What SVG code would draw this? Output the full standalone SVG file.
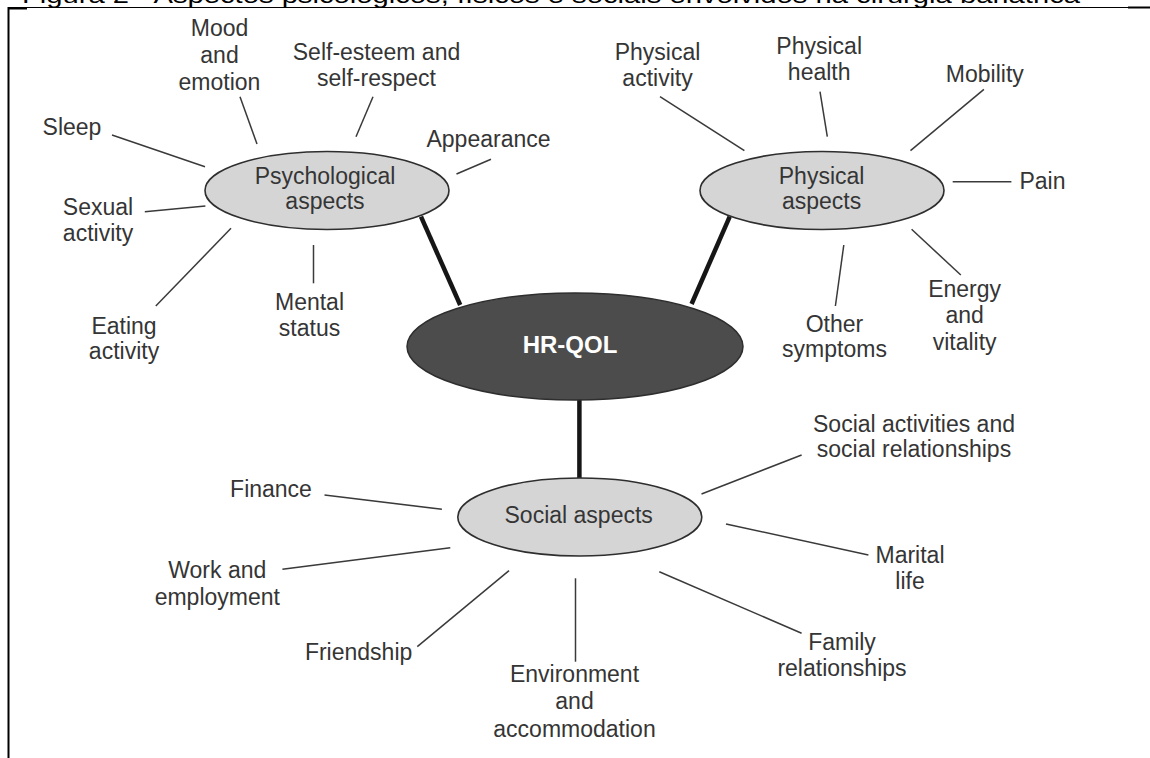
<svg xmlns="http://www.w3.org/2000/svg" width="1150" height="758" viewBox="0 0 1150 758">
<style>
text{font-family:"Liberation Sans",Arial,sans-serif;font-size:23px;fill:#353535;text-anchor:middle}
.thin{stroke:#3a3a3a;stroke-width:1.5;fill:none}
.thick{stroke:#161616;stroke-width:4.5;fill:none}
.asp{fill:#d5d5d5;stroke:#2e2e2e;stroke-width:1.6}
.core{fill:#4c4c4c;stroke:#2e2e2e;stroke-width:1.5}
.frame{stroke:#000;fill:none}
</style>
<rect width="1150" height="758" fill="#fff"/>
<g id="caption">
<text x="22" y="2.5" style="text-anchor:start;font-size:22px;fill:#000" textLength="1058" lengthAdjust="spacingAndGlyphs">Figura 2 - Aspectos psicológicos, físicos e sociais envolvidos na cirurgia bariátrica</text>
</g>
<g id="frame">
<line class="frame" x1="8" y1="7.5" x2="1128" y2="7.5" stroke-width="1.2"/>
<line class="frame" x1="8" y1="8.5" x2="27" y2="8.5" stroke-width="2"/>
<line class="frame" x1="1128" y1="7.5" x2="1150" y2="7.5" stroke-width="2"/>
<line class="frame" x1="8.5" y1="7" x2="8.5" y2="758" stroke-width="2"/>
</g>
<g id="connectors">
<line class="thick" x1="421" y1="216.7" x2="460.2" y2="305"/>
<line class="thick" x1="729.7" y1="216.7" x2="691.6" y2="304"/>
<line class="thick" x1="579.4" y1="398" x2="579.4" y2="480"/>
<line class="thin" x1="112" y1="135" x2="205" y2="166.7"/>
<line class="thin" x1="240" y1="96.7" x2="257" y2="144"/>
<line class="thin" x1="373" y1="96.7" x2="356" y2="136.7"/>
<line class="thin" x1="491" y1="159.3" x2="456.5" y2="174"/>
<line class="thin" x1="144.8" y1="211.7" x2="205.4" y2="206"/>
<line class="thin" x1="155.8" y1="306" x2="231" y2="228.3"/>
<line class="thin" x1="313.5" y1="245" x2="313.5" y2="283.3"/>
<line class="thin" x1="660" y1="96.7" x2="744.4" y2="150.7"/>
<line class="thin" x1="820" y1="91.7" x2="827.3" y2="136.7"/>
<line class="thin" x1="983.9" y1="89.3" x2="910.5" y2="150.7"/>
<line class="thin" x1="952.7" y1="181.7" x2="1011.4" y2="181.7"/>
<line class="thin" x1="911.6" y1="229.3" x2="960.8" y2="275"/>
<line class="thin" x1="843.8" y1="245" x2="835.4" y2="306"/>
<line class="thin" x1="801.6" y1="455" x2="701.5" y2="494"/>
<line class="thin" x1="324.5" y1="495" x2="441.9" y2="509.3"/>
<line class="thin" x1="282.4" y1="569.3" x2="450.3" y2="547.7"/>
<line class="thin" x1="417.3" y1="646.7" x2="509" y2="570.7"/>
<line class="thin" x1="575.5" y1="578.3" x2="575.5" y2="661.7"/>
<line class="thin" x1="726" y1="524" x2="868.4" y2="555"/>
<line class="thin" x1="659.3" y1="571.7" x2="801.6" y2="633.3"/>
</g>
<g id="psychological">
<ellipse class="asp" cx="327" cy="190.5" rx="122" ry="39"/>
<text x="325" y="183.5">Psychological</text>
<text x="325" y="209">aspects</text>
</g>
<g id="physical">
<ellipse class="asp" cx="822" cy="190.5" rx="122" ry="39"/>
<text x="821.6" y="183.5">Physical</text>
<text x="821.6" y="209">aspects</text>
</g>
<g id="hrqol">
<ellipse class="core" cx="575" cy="346.5" rx="168" ry="53.5"/>
<text x="570" y="353" style="fill:#fff;font-weight:bold;font-size:24px">HR-QOL</text>
</g>
<g id="social">
<ellipse class="asp" cx="579.8" cy="517" rx="122" ry="39"/>
<text x="578.7" y="523.3">Social aspects</text>
</g>
<g id="mood"><text x="219.5" y="35.5">Mood</text><text x="219.5" y="62.5">and</text><text x="219.5" y="89.5">emotion</text></g>
<g id="self-esteem"><text x="376.5" y="59.5">Self-esteem and</text><text x="376.5" y="86">self-respect</text></g>
<g id="sleep"><text x="72" y="135">Sleep</text></g>
<g id="appearance"><text x="488.5" y="146.7">Appearance</text></g>
<g id="sexual"><text x="98" y="215">Sexual</text><text x="98" y="241">activity</text></g>
<g id="eating"><text x="124" y="333.5">Eating</text><text x="124" y="359">activity</text></g>
<g id="mental"><text x="309.5" y="310">Mental</text><text x="309.5" y="335.5">status</text></g>
<g id="physical-activity"><text x="657.5" y="60">Physical</text><text x="657.5" y="85.5">activity</text></g>
<g id="physical-health"><text x="819.2" y="54">Physical</text><text x="819.2" y="80">health</text></g>
<g id="mobility"><text x="984.8" y="81.7">Mobility</text></g>
<g id="pain"><text x="1042.5" y="189">Pain</text></g>
<g id="energy"><text x="964.6" y="296.7">Energy</text><text x="964.6" y="323.3">and</text><text x="964.6" y="350">vitality</text></g>
<g id="other"><text x="834.5" y="331.7">Other</text><text x="834.5" y="357.3">symptoms</text></g>
<g id="social-activities"><text x="914" y="431.7">Social activities and</text><text x="914" y="456.7">social relationships</text></g>
<g id="finance"><text x="271" y="496.7">Finance</text></g>
<g id="work"><text x="217.3" y="578.3">Work and</text><text x="217.3" y="605">employment</text></g>
<g id="marital"><text x="910" y="563.3">Marital</text><text x="910" y="589.3">life</text></g>
<g id="friendship"><text x="358.6" y="660">Friendship</text></g>
<g id="family"><text x="842" y="650">Family</text><text x="842" y="676">relationships</text></g>
<g id="environment"><text x="574.5" y="681.7">Environment</text><text x="574.5" y="709.3">and</text><text x="574.5" y="736.7">accommodation</text></g>
</svg>
